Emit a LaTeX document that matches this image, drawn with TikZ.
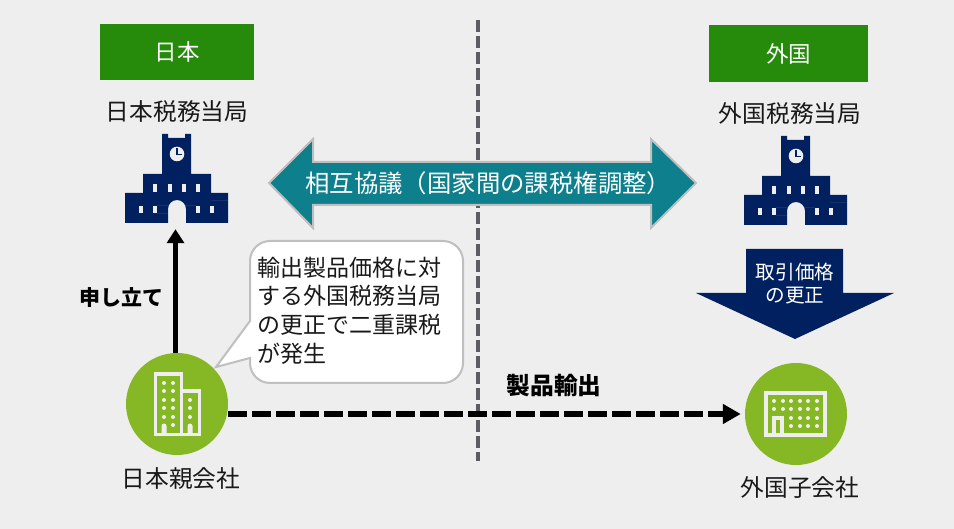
\documentclass[tikz,border=0pt]{standalone}
\usepackage{fontspec}
\setmainfont{Noto Sans CJK JP}
\usetikzlibrary{arrows.meta}
\definecolor{bgc}{HTML}{EEEEEE}
\definecolor{greenbox}{HTML}{268A0A}
\definecolor{navy}{HTML}{002060}
\definecolor{teal2}{HTML}{0E7F8C}
\definecolor{leaf}{HTML}{86B825}
\definecolor{edgegray}{HTML}{BFBFBF}
\definecolor{divider}{HTML}{5C5C62}
\newcommand{\px}[1]{\fontsize{#1pt}{#1pt}\selectfont}
\newcommand{\towericon}[2]{%
\begin{scope}[shift={(#1,#2)}]
\fill[navy] (125,223) -- (125,193) -- (143,193) -- (143,174) -- (162,174) -- (162,134) -- (168,134) -- (168,138) -- (185,138) -- (185,134) -- (191,134) -- (191,174) -- (211,174) -- (211,193) -- (228,193) -- (228,223) -- (186,223) -- (186,209) arc[start angle=0,end angle=180,x radius=9,y radius=-9] -- (168,223) -- cycle;
\fill[bgc] (177,154) circle[radius=7.3];
\draw[navy,line width=1.2pt] (177,148.5) -- (177,154.5) -- (182,154.5);
\foreach \wx in {153,168,182,196}{\fill[bgc] (\wx,184) rectangle ++(4,8);}
\foreach \wx in {139,153,196,210}{\fill[bgc] (\wx,206) rectangle ++(4,7);}
\draw[navy!92!white,line width=.4pt] (211,200) -- (228,200) (157,205) -- (168,205) (157,213) -- (168,213) (186,205) -- (196,205);
\end{scope}}
\tikzset{
  x=1pt,y=-1pt,
  greenhead/.style={fill=greenbox,text=white,inner sep=0,font=\px{22.5}},
  plainlabel/.style={inner sep=0,text=black!90,font=\px{23.7}},
  calloutline/.style={inner sep=0,anchor=west,text=black!90,font=\px{23}},
  boldlabel/.style={inner sep=0,text=black,font=\bfseries},
  orgdisc/.style={circle,fill=leaf,minimum size=102pt,inner sep=0},
  anchorbox/.style={inner sep=0,minimum width=103pt,minimum height=89pt},
}
\begin{document}
\begin{tikzpicture}
\useasboundingbox (0,0) rectangle (954,529);
\fill[bgc] (0,0) rectangle (954,529);
% divider
\coordinate (divtop) at (478,20);
\coordinate (divbot) at (478,461);
\draw[divider,line width=4.5pt,dash pattern=on 12.5pt off 3.5pt] (divtop) -- (divbot);
% headings
\node[greenhead,minimum width=154pt,minimum height=56pt] (jp) at (177,52) {日本};
\node[greenhead,minimum width=159pt,minimum height=57pt] (fr) at (788.5,53.5) {外国};
\node[plainlabel] (jptax) at (177,111) {日本税務当局};
\node[plainlabel] (frtax) at (790,113) {外国税務当局};
% buildings
\towericon{0}{0}
\towericon{619}{2}
\node[anchorbox] (jpicon) at (176.5,178.5) {};
\node[anchorbox] (fricon) at (795.5,180.5) {};
% double arrow
\draw[edgegray,line width=2pt,fill=teal2,line join=miter] (269,183) -- (313,139) -- (313,162) -- (651,162) -- (651,139) -- (696,183) -- (651,228) -- (651,205) -- (313,205) -- (313,228) -- cycle;
\node[inner sep=0,anchor=west,text=white,font=\px{24.4}] (talks) at (305,183) {相互協議（国家間の課税権調整）};
% navy arrow
\fill[navy] (746,249) -- (843,249) -- (843,293) -- (894,293) -- (795,339) -- (696,293) -- (746,293) -- cycle;
\node[inner sep=0,text=white,align=center,font=\px{19.6}] (corr) at (795,283.5) {取引価格\\[3pt]の更正};
% discs
\node[orgdisc] (parent) at (177,404) {};
\node[orgdisc] (child) at (796,414) {};
% parent icon
\draw[bgc,line width=3.5pt,line join=miter] (155.5,436) -- (155.5,373.8) -- (181.5,373.8) -- (181.5,434) (181.5,390.8) -- (199.3,390.8) -- (199.3,434.3) -- (155.5,434.3);
\foreach \dy in {383,391,400,408,417}{\fill[bgc] (164,\dy) circle[radius=2];\fill[bgc] (173,\dy) circle[radius=2];}
\fill[bgc] (173,425) circle[radius=2];
\foreach \dy in {400,408,417}{\fill[bgc] (190,\dy) circle[radius=2];}
\fill[bgc] (161.5,434) -- (161.5,426) arc[start angle=180,end angle=0,x radius=2.5,y radius=-2.5] -- (166.5,434) -- cycle;
\fill[bgc] (187.5,434) -- (187.5,426) arc[start angle=180,end angle=0,x radius=2.5,y radius=-2.5] -- (192.5,434) -- cycle;
% child icon
\draw[bgc,line width=3.8pt] (765.9,392.9) rectangle (825.1,435.1);
\foreach \dx in {774,783,791,800,808,817}{\foreach \dy in {401,409}{\fill[bgc] (\dx,\dy) circle[radius=2];}}
\foreach \dx in {791,800,808,817}{\foreach \dy in {418,426}{\fill[bgc] (\dx,\dy) circle[radius=2];}}
\draw[bgc,line width=3.8pt] (773.9,436) -- (773.9,417.9) -- (782.1,417.9) -- (782.1,436);
% callout
\draw[edgegray,line width=2pt,fill=white] (270,241) -- (443,241) arc[start angle=-90,end angle=0,radius=20] -- (463,363) arc[start angle=0,end angle=90,radius=20] -- (270,383) arc[start angle=90,end angle=180,radius=20] -- (250,358) -- (216,367) -- (250,321) -- (250,261) arc[start angle=180,end angle=270,radius=20] -- cycle;
\node[calloutline] (callout1) at (257,268) {輸出製品価格に対};
\node[calloutline] (callout2) at (257,296) {する外国税務当局};
\node[calloutline] (callout3) at (257,325) {の更正で二重課税};
\node[calloutline] (callout4) at (257,354) {が発生};
% connectors
\draw[black,line width=5pt,-{Triangle[length=14pt,width=17pt]},shorten >=6pt] ([xshift=-1.5pt]parent.north) -- ([xshift=-1.5pt]parent.north |- jpicon.south);
\draw[black,line width=6.5pt,dash pattern=on 18.5pt off 5.5pt,-{Triangle[length=18pt,width=19pt]},shorten >=4pt] (parent.east |- child.west) -- (child.west);
% labels
\node[boldlabel,font=\px{21}\bfseries] (filing) at (121,298) {申し立て};
\node[boldlabel,font=\px{23.7}\bfseries] (export) at (554,386) {製品輸出};
\node[plainlabel] (parentname) at (181,479) {日本親会社};
\node[plainlabel] (childname) at (800,488) {外国子会社};
\end{tikzpicture}
\end{document}
